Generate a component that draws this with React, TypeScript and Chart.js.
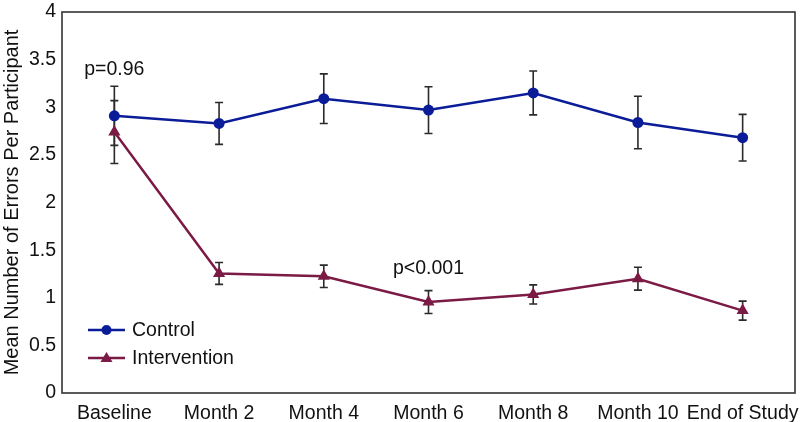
import React, { useEffect, useRef } from "react";
import { Chart, registerables } from "chart.js";

Chart.register(...registerables);

const categories = ["Baseline", "Month 2", "Month 4", "Month 6", "Month 8", "Month 10", "End of Study"];
const controlMeans = [2.91, 2.83, 3.09, 2.97, 3.15, 2.84, 2.68];
const controlErr = [0.31, 0.22, 0.26, 0.245, 0.23, 0.275, 0.245];
const interventionMeans = [2.74, 1.255, 1.225, 0.955, 1.035, 1.2, 0.865];
const interventionErr = [0.33, 0.115, 0.117, 0.12, 0.1, 0.12, 0.1];
const yTicks = [0, 0.5, 1, 1.5, 2, 2.5, 3, 3.5, 4];
const annotations = [
  { text: "p=0.96", cat: 0, y: 3.4 },
  { text: "p<0.001", cat: 3, y: 1.31 },
];

const CONTROL_COLOR = "#0b1c98";
const INTERVENTION_COLOR = "#7a1a45";
const FONT = "'Liberation Sans', Arial, Helvetica, sans-serif";

export default function App() {
  const ref = useRef<HTMLCanvasElement | null>(null);

  useEffect(() => {
    document.body.style.margin = "0";
    const canvas = ref.current;
    if (!canvas) return;

    const errorBars = {
      id: "errorBars",
      beforeDatasetsDraw(chart: any) {
        const ctx = chart.ctx;
        const xs = chart.scales.x;
        const ys = chart.scales.y;
        const sets = [
          { m: controlMeans, e: controlErr },
          { m: interventionMeans, e: interventionErr },
        ];
        ctx.save();
        ctx.strokeStyle = "#2a2a2a";
        ctx.lineWidth = 1.6;
        sets.forEach((s) => {
          s.m.forEach((v, i) => {
            const x = xs.getPixelForValue(i);
            const y1 = ys.getPixelForValue(v + s.e[i]);
            const y2 = ys.getPixelForValue(v - s.e[i]);
            ctx.beginPath();
            ctx.moveTo(x, y1);
            ctx.lineTo(x, y2);
            ctx.moveTo(x - 4, y1);
            ctx.lineTo(x + 4, y1);
            ctx.moveTo(x - 4, y2);
            ctx.lineTo(x + 4, y2);
            ctx.stroke();
          });
        });
        ctx.restore();
      },
      afterDraw(chart: any) {
        const ctx = chart.ctx;
        const a = chart.chartArea;
        const xs = chart.scales.x;
        const ys = chart.scales.y;
        ctx.save();
        // frame
        ctx.strokeStyle = "#333333";
        ctx.lineWidth = 1.6;
        ctx.strokeRect(a.left, a.top, a.right - a.left, a.bottom - a.top);
        // annotations
        ctx.fillStyle = "#111111";
        ctx.font = `19.5px ${FONT}`;
        ctx.textAlign = "center";
        ctx.textBaseline = "middle";
        annotations.forEach((an) => {
          ctx.fillText(an.text, xs.getPixelForValue(an.cat), ys.getPixelForValue(an.y));
        });
        // legend
        const items = [
          { label: "Control", color: CONTROL_COLOR, shape: "circle" },
          { label: "Intervention", color: INTERVENTION_COLOR, shape: "triangle" },
        ];
        const lx = a.left + 26;
        let ly = a.top + 318;
        items.forEach((it) => {
          ctx.strokeStyle = it.color;
          ctx.lineWidth = 2.5;
          ctx.beginPath();
          ctx.moveTo(lx, ly);
          ctx.lineTo(lx + 37, ly);
          ctx.stroke();
          ctx.fillStyle = it.color;
          const cx = lx + 18.5;
          ctx.beginPath();
          if (it.shape === "circle") {
            ctx.arc(cx, ly, 5, 0, Math.PI * 2);
          } else {
            ctx.moveTo(cx, ly - 6);
            ctx.lineTo(cx + 6, ly + 4);
            ctx.lineTo(cx - 6, ly + 4);
            ctx.closePath();
          }
          ctx.fill();
          ctx.fillStyle = "#111111";
          ctx.textAlign = "left";
          ctx.textBaseline = "middle";
          ctx.fillText(it.label, lx + 44, ly + 1);
          ly += 28;
        });
        ctx.restore();
      },
    };

    const chart = new Chart(canvas, {
      type: "line",
      data: {
        labels: categories,
        datasets: [
          {
            label: "Control",
            data: controlMeans,
            borderColor: CONTROL_COLOR,
            backgroundColor: CONTROL_COLOR,
            borderWidth: 2.5,
            pointStyle: "circle",
            pointRadius: 5.5,
            pointBorderWidth: 0,
            tension: 0,
          },
          {
            label: "Intervention",
            data: interventionMeans,
            borderColor: INTERVENTION_COLOR,
            backgroundColor: INTERVENTION_COLOR,
            borderWidth: 2.5,
            pointStyle: "triangle",
            pointRadius: 7,
            pointBorderWidth: 0,
            tension: 0,
          },
        ],
      },
      options: {
        animation: false,
        responsive: true,
        maintainAspectRatio: false,
        layout: { padding: { top: 12, right: 5, left: 0, bottom: 0 } },
        plugins: {
          legend: { display: false },
          tooltip: { enabled: false },
        },
        scales: {
          x: {
            type: "category",
            offset: true,
            grid: { display: false },
            border: { display: false },
            ticks: {
              color: "#111111",
              font: { family: FONT, size: 19.5 },
              padding: 1,
              maxRotation: 0,
              autoSkip: false,
            },
            afterFit: (s: any) => {
              s.height = 29;
              s.paddingLeft = 0;
              s.paddingRight = 0;
            },
          },
          y: {
            min: 0,
            max: 4,
            grid: { display: false },
            border: { display: false },
            afterBuildTicks: (s: any) => {
              s.ticks = yTicks.map((v) => ({ value: v }));
            },
            ticks: {
              color: "#111111",
              font: { family: FONT, size: 19.5 },
              padding: -2,
              callback: (v: any) => String(v),
            },
            title: {
              display: true,
              text: "Mean Number of Errors Per Participant",
              color: "#111111",
              font: { family: FONT, size: 20, lineHeight: 1.05 },
              padding: { top: 1.5, bottom: 0 },
            },
            afterFit: (s: any) => {
              s.width = 62;
              s.paddingTop = 0;
              s.paddingBottom = 0;
            },
          },
        },
      },
      plugins: [errorBars],
    });

    return () => chart.destroy();
  }, []);

  return (
    <div style={{ width: 802, height: 422, position: "relative" }}>
      <canvas ref={ref} />
    </div>
  );
}
